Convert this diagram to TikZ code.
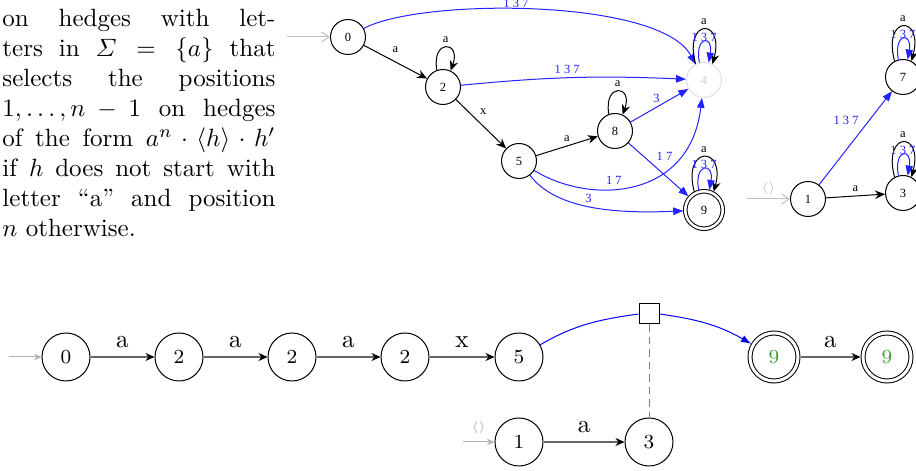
\documentclass[tikz,border=0pt]{standalone}
\usepackage{fontspec}
\usepackage{amsmath}
\usepackage{amssymb}
\usepackage{tikz}
\usetikzlibrary{arrows.meta,calc,shapes}
\newfontfamily\gvfont{Liberation Serif}
\definecolor{gvblue}{RGB}{35,35,255}
\definecolor{stgreen}{RGB}{55,160,55}
\tikzset{
  txtline/.style={anchor=base west,inner sep=0pt},
  gvstate/.style={circle,draw,minimum size=14pt,inner sep=0pt,font=\gvfont\fontsize{5}{6}\selectfont},
  gvacc/.style={gvstate,double,double distance=1pt,minimum size=15pt,outer sep=0.8pt},
  gvlbl/.style={font=\gvfont\fontsize{5}{6}\selectfont,inner sep=1.5pt},
  gvblk/.style={-{Stealth[length=4pt,width=3.4pt]}},
  gvblu/.style={gvblue,-{Triangle[length=4pt,width=3pt]}},
  gvinit/.style={gray!50,-{Straight Barb[length=3pt,width=4pt]}},
  runst/.style={circle,draw,minimum size=19.2pt,inner sep=0pt,font=\footnotesize},
  runacc/.style={runst,double,double distance=1.2pt,outer sep=1pt,text=stgreen},
  runedge/.style={semithick,draw=black!60,-{Stealth[length=3.6pt,width=3.2pt,color=black]}},
  runinit/.style={gray!60,-{Stealth[length=3pt,width=2.6pt]}},
  runblu/.style={blue}
}
\begin{document}
\begin{tikzpicture}[x=0.4pt,y=0.4pt]
    \useasboundingbox (0,0) rectangle (916,-471);
    \clip (0,0) rectangle (916,-471);
    \node[txtline] (ln1) at (2,-27) {\makebox[109.2pt][s]{on hedges with let-}};
    \node[txtline] (ln2) at (2,-57) {\makebox[109.2pt][s]{ters in $\varSigma = \{a\}$ that}};
    \node[txtline] (ln3) at (2,-87) {\makebox[109.2pt][s]{selects the positions}};
    \node[txtline] (ln4) at (2,-117) {\makebox[109.2pt][s]{$1,\ldots,n-1$ on hedges}};
    \node[txtline] (ln5) at (2,-147) {\makebox[109.2pt][s]{of the form $a^n\cdot\langle h\rangle\cdot h'$}};
    \node[txtline] (ln6) at (2,-177) {\makebox[109.2pt][s]{if $h$ does not start with}};
    \node[txtline] (ln7) at (2,-207) {\makebox[109.2pt][s]{letter ``a'' and position}};
    \node[txtline] (ln8) at (2,-237) {$n$ otherwise.};
    \coordinate (i0) at (287,-37);
    \coordinate (i1) at (747,-199);
    \node[gvstate] (n0) at (348,-37) {0};
    \node[gvstate] (n2) at (443,-87) {2};
    \node[gvstate] (n5) at (519,-161) {5};
    \node[gvstate] (n8) at (615,-131) {8};
    \node[gvstate,draw=gray!25,text=gray!40] (n4) at (704,-80) {4};
    \node[gvacc] (n9) at (704,-210) {9};
    \node[gvstate] (n1) at (808,-199) {1};
    \node[gvstate] (n7) at (903,-77) {7};
    \node[gvstate] (n3) at (903,-193) {3};
    \draw[gvinit] (i0) -- (n0);
    \draw[gvinit] (i1) -- (n1) node[gvlbl,pos=0.5,above,text=gray!50] {$\langle\rangle$};
    \draw[gvblk] (n0) -- (n2) node[gvlbl,pos=0.5,above,yshift=2pt] {a};
    \draw[gvblk] (n2) -- (n5) node[gvlbl,pos=0.4,above right] {x};
    \draw[gvblk] (n5) -- (n8) node[gvlbl,pos=0.5,above] {a};
    \draw[gvblk] (n1) -- (n3) node[gvlbl,pos=0.5,above] {a};
    \draw[gvblk] (n2.110) .. controls +(100:32) and +(70:32) .. (n2.65) node[gvlbl,pos=0.5,above] {a};
    \draw[gvblk] (n8.110) .. controls +(100:32) and +(70:32) .. (n8.65) node[gvlbl,pos=0.5,above] {a};
    \draw[gvblu] (n0) .. controls (420,2) and (660,2) .. (n4) node[gvlbl,pos=0.45,above=-1pt] {1 3 7};
    \draw[gvblu] (n2) to[bend left=4] node[gvlbl,pos=0.47,above] {1 3 7} (n4);
    \draw[gvblu] (n8) -- (n4) node[gvlbl,pos=0.45,above] {3};
    \draw[gvblu] (n5) .. controls (590,-205) and (690,-200) .. (n4) node[gvlbl,pos=0.4,above] {1 7};
    \draw[gvblu] (n8) -- (n9) node[gvlbl,pos=0.4,above right] {1 7};
    \draw[gvblu] (n5) .. controls (555,-208) and (610,-214) .. (n9) node[gvlbl,pos=0.5,above] {3};
    \draw[gvblu] (n1) -- (n7) node[gvlbl,pos=0.6,above left] {1 3 7};
    \draw[gvblk] (n4.118) .. controls +(105:48) and +(75:48) .. (n4.62) node[gvlbl,pos=0.5,above] {a};
    \draw[gvblu] (n4.105) .. controls +(100:28) and +(80:28) .. (n4.75) node[gvlbl,pos=0.5,above=-1.5pt] {1 3 7};
    \draw[gvblk] (n9.118) .. controls +(105:48) and +(75:48) .. (n9.62) node[gvlbl,pos=0.5,above] {a};
    \draw[gvblu] (n9.105) .. controls +(100:28) and +(80:28) .. (n9.75) node[gvlbl,pos=0.5,above=-1.5pt] {1 3 7};
    \draw[gvblk] (n7.118) .. controls +(105:48) and +(75:48) .. (n7.62) node[gvlbl,pos=0.5,above] {a};
    \draw[gvblu] (n7.105) .. controls +(100:28) and +(80:28) .. (n7.75) node[gvlbl,pos=0.5,above=-1.5pt] {1 3 7};
    \draw[gvblk] (n3.118) .. controls +(105:48) and +(75:48) .. (n3.62) node[gvlbl,pos=0.5,above] {a};
    \draw[gvblu] (n3.105) .. controls +(100:28) and +(80:28) .. (n3.75) node[gvlbl,pos=0.5,above=-1.5pt] {1 3 7};
    \coordinate (j0) at (9,-357);
    \coordinate (j1) at (463,-442);
    \node[runst] (r0) at (66,-357) {0};
    \node[runst] (r2a) at (179,-357) {2};
    \node[runst] (r2b) at (292,-357) {2};
    \node[runst] (r2c) at (405,-357) {2};
    \node[runst] (r5) at (519,-357) {5};
    \node[runacc] (r9a) at (774,-357) {9};
    \node[runacc] (r9b) at (887,-357) {9};
    \node[draw,rectangle,minimum size=8pt,inner sep=0pt] (hole) at (649,-314) {};
    \node[runst] (s1) at (519,-442) {1};
    \node[runst] (s3) at (649,-442) {3};
    \draw[runinit] (j0) -- (r0);
    \draw[runinit] (j1) -- (s1) node[pos=0.5,above,font=\tiny,text=gray!70] {$\langle\rangle$};
    \draw[runedge] (r0) -- (r2a) node[midway,above,text=black] {a};
    \draw[runedge] (r2a) -- (r2b) node[midway,above,text=black] {a};
    \draw[runedge] (r2b) -- (r2c) node[midway,above,text=black] {a};
    \draw[runedge] (r2c) -- (r5) node[midway,above,text=black] {x};
    \draw[runedge] (r9a) -- (r9b) node[midway,above,text=black] {a};
    \draw[runedge] (s1) -- (s3) node[midway,above,text=black] {a};
    \draw[runblu] (r5) to[out=30,in=188] (hole.west);
    \draw[runblu,-{Latex[length=4pt,width=3pt]}] (hole.east) to[out=-8,in=150] (r9a);
    \draw[gray,dash pattern=on 3pt off 2pt] (hole.south) -- (s3.north);
\end{tikzpicture}
\end{document}
